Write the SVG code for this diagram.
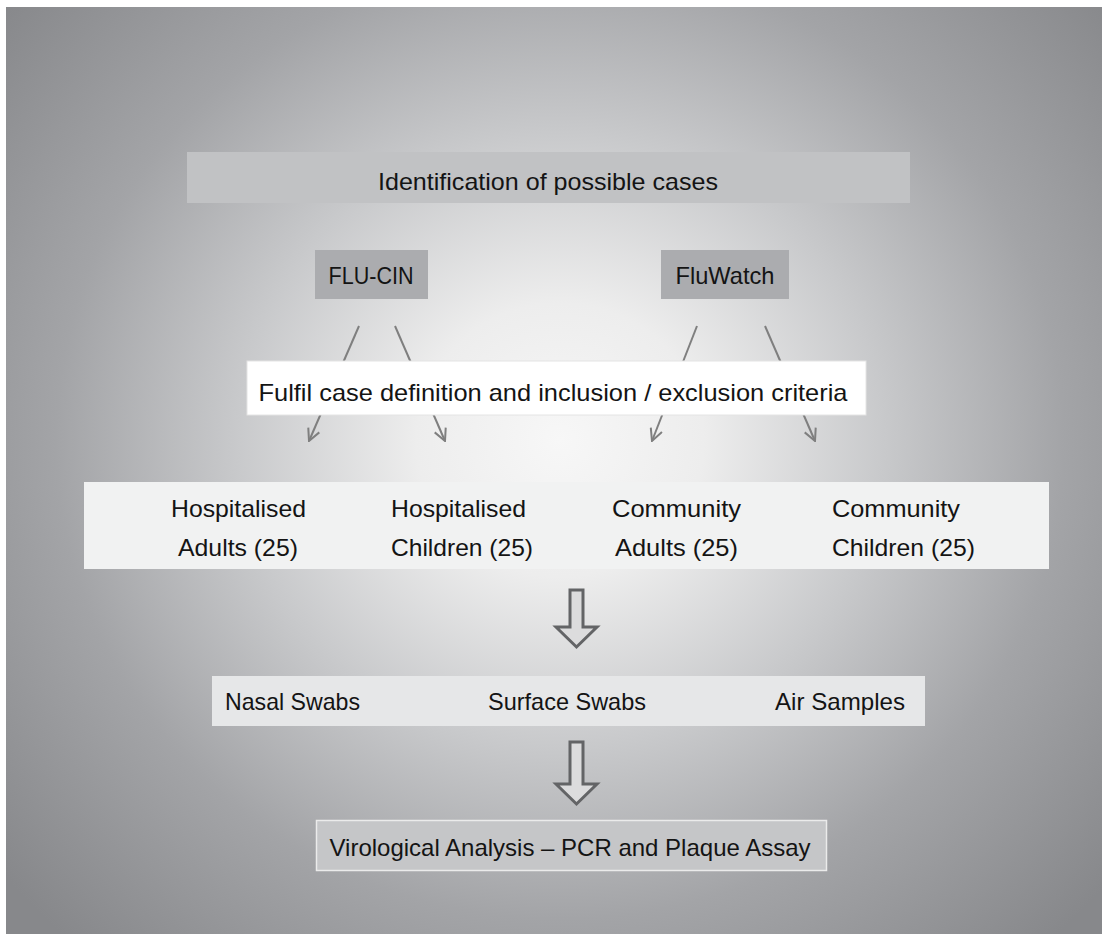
<svg xmlns="http://www.w3.org/2000/svg" width="1102" height="934" viewBox="0 0 1102 934">
  <style>
    .t { font-family: "Liberation Sans", Arial, sans-serif; font-size: 24px; fill: #141414; }
    .conn { stroke: #7f7f7f; stroke-width: 2; fill: none; marker-end: url(#vhead); }
    .hollow { fill: #dcdcdd; stroke: #636466; stroke-width: 3; stroke-linejoin: miter; }
  </style>
  <defs>
    <radialGradient id="bg" gradientUnits="userSpaceOnUse" cx="560" cy="440" r="720" gradientTransform="translate(560 440) scale(1 0.95) translate(-560 -440)">
      <stop offset="0" stop-color="#f7f7f7"/>
      <stop offset="0.2" stop-color="#ededed"/>
      <stop offset="0.45" stop-color="#c8c9cb"/>
      <stop offset="0.7" stop-color="#a3a4a7"/>
      <stop offset="1" stop-color="#87888b"/>
    </radialGradient>
    <marker id="vhead" viewBox="0 0 14 14" refX="13" refY="7" markerWidth="14" markerHeight="14" markerUnits="userSpaceOnUse" orient="auto">
      <path d="M1,1 L13,7 L1,13" fill="none" stroke="#7f7f7f" stroke-width="2"/>
    </marker>
  </defs>

  <rect x="0" y="0" width="1102" height="934" fill="#ffffff"/>
  <rect id="background" x="6" y="7" width="1096" height="927" fill="url(#bg)"/>

  <g id="connectors">
    <line class="conn" x1="359" y1="326" x2="309" y2="441"/>
    <line class="conn" x1="395" y1="326" x2="445" y2="441"/>
    <line class="conn" x1="697" y1="326" x2="652" y2="441"/>
    <line class="conn" x1="765" y1="326" x2="815" y2="441"/>
    <path id="arrow-1" class="hollow" d="M570,590 L583,590 L583,627 L597,627 L576.5,647 L556,627 L570,627 Z"/>
    <path id="arrow-2" class="hollow" d="M570,742 L583,742 L583,784 L597,784 L576.5,804 L556,784 L570,784 Z"/>
  </g>

  <g id="identification">
    <rect x="187" y="152" width="723" height="51" fill="#c1c2c4"/>
    <text class="t" x="548" y="190" text-anchor="middle" textLength="340" lengthAdjust="spacingAndGlyphs">Identification of possible cases</text>
  </g>

  <g id="flu-cin">
    <rect x="315" y="250" width="113" height="49" fill="#abacaf"/>
    <text class="t" x="371" y="284" text-anchor="middle" textLength="85" lengthAdjust="spacingAndGlyphs">FLU-CIN</text>
  </g>

  <g id="fluwatch">
    <rect x="661" y="250" width="128" height="49" fill="#abacaf"/>
    <text class="t" x="725" y="284" text-anchor="middle" textLength="99" lengthAdjust="spacingAndGlyphs">FluWatch</text>
  </g>

  <g id="criteria">
    <rect x="247" y="361" width="619" height="54" fill="#ffffff" stroke="#e4e4e4" stroke-width="1"/>
    <text class="t" x="553" y="401" text-anchor="middle" textLength="589" lengthAdjust="spacingAndGlyphs">Fulfil case definition and inclusion / exclusion criteria</text>
  </g>

  <g id="groups">
    <rect x="84" y="482" width="965" height="87" fill="#f1f2f2"/>
    <g id="hosp-adults">
      <text class="t" x="171" y="517" textLength="135" lengthAdjust="spacingAndGlyphs">Hospitalised</text>
      <text class="t" x="178" y="556" textLength="120" lengthAdjust="spacingAndGlyphs">Adults (25)</text>
    </g>
    <g id="hosp-children">
      <text class="t" x="391" y="517" textLength="135" lengthAdjust="spacingAndGlyphs">Hospitalised</text>
      <text class="t" x="391" y="556" textLength="142" lengthAdjust="spacingAndGlyphs">Children (25)</text>
    </g>
    <g id="comm-adults">
      <text class="t" x="612" y="517" textLength="129" lengthAdjust="spacingAndGlyphs">Community</text>
      <text class="t" x="615" y="556" textLength="123" lengthAdjust="spacingAndGlyphs">Adults (25)</text>
    </g>
    <g id="comm-children">
      <text class="t" x="832" y="517" textLength="128" lengthAdjust="spacingAndGlyphs">Community</text>
      <text class="t" x="832" y="556" textLength="143" lengthAdjust="spacingAndGlyphs">Children (25)</text>
    </g>
  </g>

  <g id="samples">
    <rect x="212" y="676" width="713" height="50" fill="#e6e7e8"/>
    <text id="nasal" class="t" x="225" y="710" textLength="135" lengthAdjust="spacingAndGlyphs">Nasal Swabs</text>
    <text id="surface" class="t" x="488" y="710" textLength="158" lengthAdjust="spacingAndGlyphs">Surface Swabs</text>
    <text id="air" class="t" x="775" y="710" textLength="130" lengthAdjust="spacingAndGlyphs">Air Samples</text>
  </g>

  <g id="analysis">
    <rect x="316.5" y="820.5" width="510" height="50" fill="#c5c6c8" stroke="#ebebeb" stroke-width="1.5"/>
    <text class="t" x="570" y="856" text-anchor="middle" textLength="481" lengthAdjust="spacingAndGlyphs">Virological Analysis – PCR and Plaque Assay</text>
  </g>
</svg>
